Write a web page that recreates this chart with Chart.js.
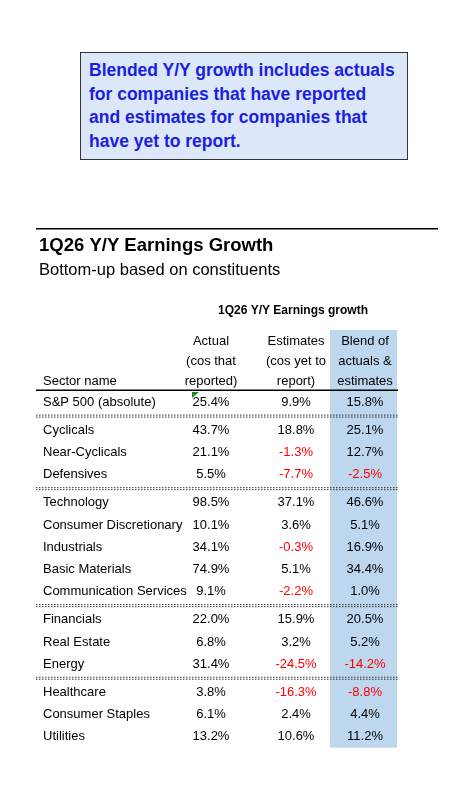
<!DOCTYPE html><html><head><meta charset="utf-8">
<script src="https://cdn.jsdelivr.net/npm/chart.js@4.4.1/dist/chart.umd.min.js"></script>
<style>
body{margin:0;width:472px;height:792px;background:#fff;font-family:"Liberation Sans",Arial,sans-serif;position:relative;overflow:hidden}
#box{position:absolute;left:80px;top:52px;width:312px;height:94px;padding:6px 6px 6px 8px;background:#dce7fa;border:1px solid #333;color:#1b1ee0;font-weight:bold;font-size:17.5px;line-height:23.5px}
#wrap{position:absolute;left:0;top:0;width:472px;height:792px}
</style></head><body>
<div id="wrap"><canvas id="c"></canvas></div>
<div id="box">Blended Y/Y growth includes actuals for companies that have reported and estimates for companies that have yet to report.</div>
<script>
const sectors=["S&P 500 (absolute)","Cyclicals","Near-Cyclicals","Defensives","Technology","Consumer Discretionary","Industrials","Basic Materials","Communication Services","Financials","Real Estate","Energy","Healthcare","Consumer Staples","Utilities"];
const groups=[0,1,1,1,2,2,2,2,2,3,3,3,4,4,4];
const actual=[25.4,43.7,21.1,5.5,98.5,10.1,34.1,74.9,9.1,22.0,6.8,31.4,3.8,6.1,13.2];
const estimates=[9.9,18.8,-1.3,-7.7,37.1,3.6,-0.3,5.1,-2.2,15.9,3.2,-24.5,-16.3,2.4,10.6];
const blend=[15.8,25.1,12.7,-2.5,46.6,5.1,16.9,34.4,1.0,20.5,5.2,-14.2,-8.8,4.4,11.2];
const colHeaders=[["Actual","(cos that","reported)"],["Estimates","(cos yet to","report)"],["Blend of","actuals &","estimates"]];
const colX=[211,296,365];
const rowPos=sectors.map((s,i)=>i+groups[i]*0.27);
const F='"Liberation Sans",Arial,sans-serif';
const tablePlugin={id:'tbl',beforeDatasetsDraw(ch){
 const c=ch.ctx,y=ch.scales.y,x=ch.scales.x;
 const top=330,bot=y.getPixelForValue(rowPos[14])+11;
 c.save();
 c.fillStyle='#bdd7ee';c.fillRect(x.getPixelForValue(colX[2])-35,top,67,bot-top);
 c.fillStyle='#000';c.font='bold 18.5px '+F;c.textBaseline='middle';c.textAlign='left';
 c.fillText('1Q26 Y/Y Earnings Growth',39,246);
 c.font='16.5px '+F;c.fillText('Bottom-up based on constituents',39,270);
 c.fillRect(36,228,402,1.5);
 c.font='bold 12px '+F;c.textAlign='center';c.fillText('1Q26 Y/Y Earnings growth',293,311);
 c.font='13px '+F;
 colHeaders.forEach((h,j)=>h.forEach((t,k)=>c.fillText(t,x.getPixelForValue(colX[j]),341+k*20)));
 c.textAlign='left';c.fillText('Sector name',43,381);
 c.fillRect(36,389.5,362,1.5);
 c.fillStyle='#1a8a1a';c.beginPath();c.moveTo(192,392);c.lineTo(199,392);c.lineTo(192,398);c.fill();
 for(let i=1;i<sectors.length;i++){ if(groups[i]!==groups[i-1]){
   const yy=(y.getPixelForValue(rowPos[i])+y.getPixelForValue(rowPos[i-1]))/2;
   c.strokeStyle='#333';c.lineWidth=1;c.setLineDash([1.5,1.5]);
   [yy-1,yy+1].forEach(v=>{c.beginPath();c.moveTo(36,v);c.lineTo(398,v);c.stroke();});
   c.setLineDash([]);
 }}
 c.font='13px '+F;
 sectors.forEach((s,i)=>{
  const py=y.getPixelForValue(rowPos[i]);
  c.fillStyle='#000';c.textAlign='left';c.fillText(s,43,py);
  [actual,estimates,blend].forEach((arr,j)=>{
   const v=arr[i];c.fillStyle=v<0?'#ff0000':'#000';c.textAlign='center';
   c.fillText(v.toFixed(1)+'%',x.getPixelForValue(colX[j]),py);
  });
 });
 c.restore();
}};
new Chart(document.getElementById('c'),{type:'scatter',
 data:{datasets:[{data:rowPos.map((r,i)=>({x:colX[0],y:r})),pointRadius:0}]},
 options:{responsive:true,maintainAspectRatio:false,animation:false,
  layout:{padding:0},
  plugins:{legend:{display:false},tooltip:{enabled:false}},
  scales:{x:{display:false,min:0,max:472},
          y:{display:false,reverse:true,min:-18.11,max:17.57}}},
 plugins:[tablePlugin]});
</script></body></html>
